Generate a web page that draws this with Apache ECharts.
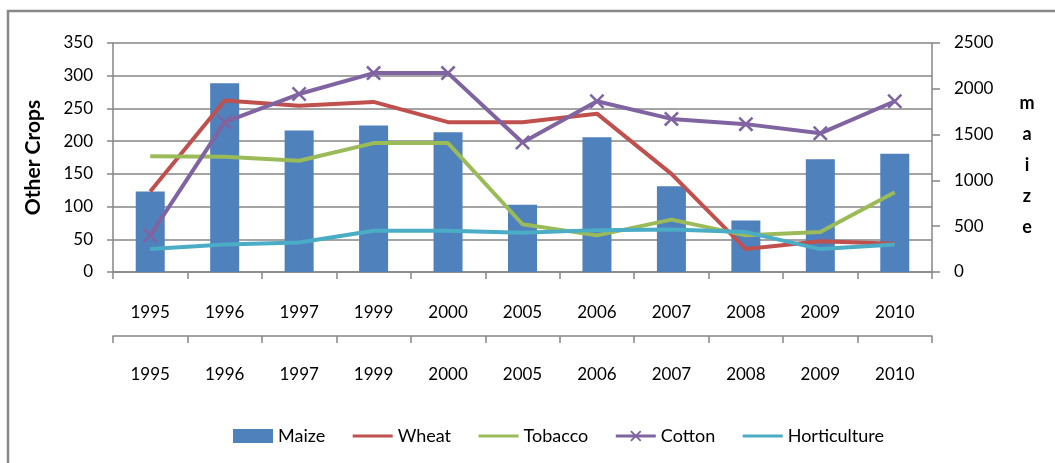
<!DOCTYPE html>
<html>
<head>
<meta charset="utf-8">
<script src="https://cdn.jsdelivr.net/npm/echarts@6/dist/echarts.min.js"></script>
<style>
  html, body { margin: 0; padding: 0; background: #ffffff; }
  #chart { width: 1055px; height: 463px; }
</style>
</head>
<body>
<div id="chart"></div>
<script>
// Crop production by year: maize on the right axis, other crops on the left
const years = ['1995', '1996', '1997', '1999', '2000', '2005', '2006', '2007', '2008', '2009', '2010'];
const maize = [880, 2060, 1545, 1600, 1525, 735, 1470, 937, 563, 1231, 1290];
const wheat = [123, 262, 254, 260, 229, 229, 242, 150, 35, 47, 43];
const tobacco = [177, 176, 170, 197, 197, 73, 56, 80, 56, 61, 122];
const cotton = [56, 229, 272, 304, 304, 198, 261, 234, 226, 212, 261];
const horticulture = [35, 42, 45, 63, 63, 60, 64, 65, 61, 35, 42];
const leftTicks = { min: 0, max: 350, interval: 50 };
const rightTicks = { min: 0, max: 2500, interval: 500 };

const FONT = 'Lato';
const TICK_SIZE = 17;
const AXIS_GRAY = '#868686';
// X-shaped marker built from two thin filled bars
const crossPath = 'path://M0,1.2L1.2,0L10,8.8L8.8,10Z M8.8,0L10,1.2L1.2,10L0,8.8Z';

const chart = echarts.init(document.getElementById('chart'), null, { renderer: 'canvas' });

function catAxis(offset, margin) {
  return {
    type: 'category',
    data: years,
    position: 'bottom',
    offset: offset,
    boundaryGap: true,
    axisLine: { show: true, onZero: false, lineStyle: { color: AXIS_GRAY, width: 1.5 } },
    axisTick: { show: true, alignWithLabel: false, length: 7, lineStyle: { color: AXIS_GRAY, width: 1.5 } },
    axisLabel: { color: '#000', fontFamily: FONT, fontSize: TICK_SIZE, margin: margin, interval: 0 },
    splitLine: { show: false }
  };
}

function lineSeries(name, data, color, extra) {
  return Object.assign({
    name: name,
    type: 'line',
    yAxisIndex: 0,
    data: data,
    symbol: 'none',
    smooth: false,
    lineStyle: { color: color, width: 4 },
    itemStyle: { color: color },
    emphasis: { disabled: true }
  }, extra || {});
}

chart.setOption({
  animation: false,
  backgroundColor: '#ffffff',
  textStyle: { fontFamily: FONT },
  grid: { left: 113, right: 123, top: 43, bottom: 191, containLabel: false },
  legend: {
    left: 228,
    top: 422,
    itemWidth: 40,
    itemHeight: 14,
    itemGap: 26,
    lineStyle: { width: 3 },
    textStyle: { fontFamily: FONT, fontSize: 18, color: '#000' },
    data: [
      { name: 'Maize', icon: 'rect' },
      { name: 'Wheat', itemStyle: { opacity: 0 } },
      { name: 'Tobacco', itemStyle: { opacity: 0 } },
      'Cotton',
      { name: 'Horticulture', itemStyle: { opacity: 0 } }
    ]
  },
  graphic: [
    {
      type: 'polyline',
      shape: { points: [[8, 470], [8, 11], [1060, 11]] },
      style: { fill: null, stroke: '#888888', lineWidth: 2.5 },
      silent: true
    },
    {
      // right-axis title, one letter per line
      type: 'text',
      x: 1027,
      y: 165,
      style: {
        text: 'm\na\ni\nz\ne',
        fontFamily: FONT,
        fontWeight: 'bold',
        fontSize: 18,
        lineHeight: 31,
        fill: '#000',
        align: 'center',
        verticalAlign: 'middle'
      },
      silent: true
    }
  ],
  xAxis: [catAxis(0, 32), catAxis(64, 30)],
  yAxis: [
    {
      type: 'value',
      position: 'left',
      min: leftTicks.min, max: leftTicks.max, interval: leftTicks.interval,
      name: 'Other Crops',
      nameLocation: 'middle',
      nameRotate: 90,
      nameGap: 69,
      nameTextStyle: { fontFamily: FONT, fontWeight: 'bold', fontSize: 21, color: '#000' },
      axisLine: { show: true, lineStyle: { color: AXIS_GRAY, width: 1.5 } },
      axisTick: { show: true, length: 6, lineStyle: { color: AXIS_GRAY, width: 1.5 } },
      axisLabel: { color: '#000', fontFamily: FONT, fontSize: TICK_SIZE, margin: 20 },
      splitLine: { show: true, lineStyle: { color: AXIS_GRAY, width: 1.5 } }
    },
    {
      type: 'value',
      position: 'right',
      min: rightTicks.min, max: rightTicks.max, interval: rightTicks.interval,
      axisLine: { show: true, lineStyle: { color: AXIS_GRAY, width: 1.5 } },
      axisTick: { show: true, length: 8, lineStyle: { color: AXIS_GRAY, width: 1.5 } },
      axisLabel: { color: '#000', fontFamily: FONT, fontSize: TICK_SIZE, margin: 22, formatter: (v) => String(v) },
      splitLine: { show: false }
    }
  ],
  series: [
    {
      name: 'Maize',
      type: 'bar',
      yAxisIndex: 1,
      xAxisIndex: 0,
      data: maize,
      barWidth: 29,
      itemStyle: { color: '#4F81BD' },
      emphasis: { disabled: true }
    },
    lineSeries('Wheat', wheat, '#C0504D'),
    lineSeries('Tobacco', tobacco, '#9BBB59'),
    lineSeries('Cotton', cotton, '#8064A2', {
      symbol: crossPath,
      symbolSize: 15,
      showSymbol: true,
      itemStyle: { color: '#8064A2' }
    }),
    lineSeries('Horticulture', horticulture, '#4BACC6')
  ]
});
</script>
</body>
</html>
